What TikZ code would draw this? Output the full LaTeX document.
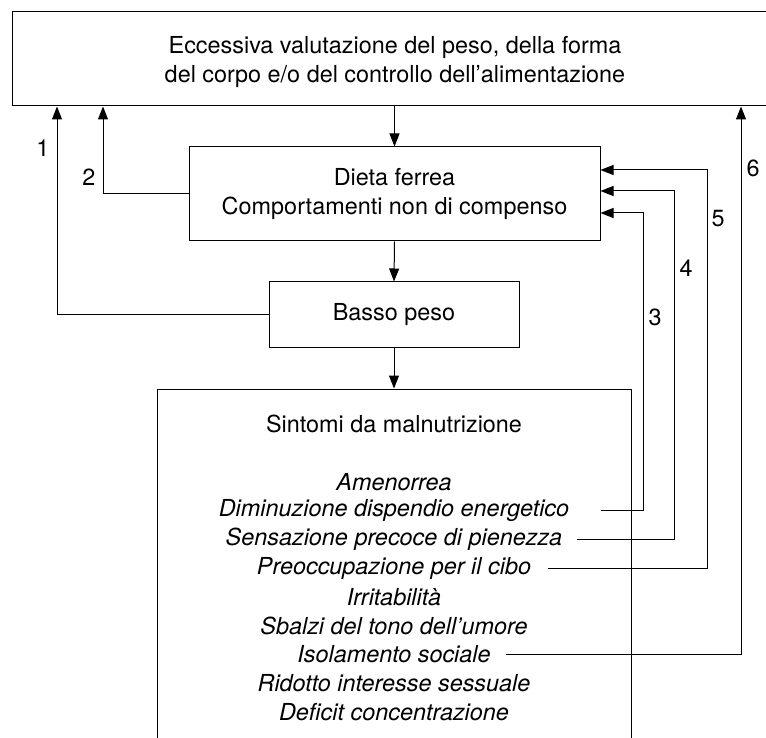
\documentclass[tikz,border=0pt]{standalone}
\usepackage{fontspec}
\setmainfont{TeX Gyre Heros}
\usetikzlibrary{arrows.meta, positioning, calc, fit}
\tikzset{
         mybox/.style={draw, inner sep=0pt},
         mytext/.style={align=center, inner sep=0pt, font=\fontsize{23.4}{28.6}\selectfont},
         myitem/.style={inner sep=0pt, font=\fontsize{23.4}{28.6}\selectfont\itshape},
         mylab/.style={inner sep=0pt, font=\fontsize{23.4}{28.6}\selectfont}
      }

\begin{document}
\begin{tikzpicture}[x=1pt, y=-1pt, ->, >={Triangle[length=13pt,width=10pt]}, line width=1pt]
  \clip (0,0) rectangle (766,738);

  % boxes
  \node[mytext] (valuttxt) at (395,62) {Eccessiva valutazione del peso, della forma\\del corpo e/o del controllo dell'alimentazione};
  \node[mybox, fit={(12,12) (830,106)}] (valut) {};
  \node[mybox, mytext, minimum width=411, minimum height=94] (dieta) at (394.5,194) {Dieta ferrea\\Comportamenti non di compenso};
  \node[mybox, mytext, minimum width=250, minimum height=65] (basso) at (394,314.5) {Basso peso};
  \node[mybox, fit={(157,389) (631,800)}] (sintomi) {};
  \node[mytext] (sintomitit) at (394,424) {Sintomi da malnutrizione};
  \foreach \t [count=\i] in {Amenorrea, Diminuzione dispendio energetico, Sensazione precoce di pienezza,
      Preoccupazione per il cibo, Irritabilità, Sbalzi del tono dell'umore, Isolamento sociale,
      Ridotto interesse sessuale, Deficit concentrazione}
    \node[myitem] (item\i) at (394,{482+28.75*(\i-1)}) {\t};

  % main chain
  \draw (valut.south -| dieta.north) -- (dieta.north);
  \draw (dieta.south) -- (basso.north);
  \draw (basso.south) -- (basso.south |- sintomi.north);

  % feedback loops
  \coordinate (c1) at (57,0);
  \coordinate (c2) at (103,0);
  \coordinate (c3) at (643,213);
  \coordinate (c4) at (674,191);
  \coordinate (c5) at (707,170);
  \coordinate (c6) at (741,0);
  \draw (basso.west) -| (c1 |- valut.south);
  \draw (dieta.west) -| (c2 |- valut.south);
  \draw ([xshift=31pt]item2.east) -| (c3) -- (c3 -| dieta.east);
  \draw ([xshift=14pt]item3.east) -| (c4) -- (c4 -| dieta.east);
  \draw ([xshift=16pt]item4.east) -| (c5) -- (c5 -| dieta.east);
  \draw ([xshift=15pt]item7.east) -| (c6 |- valut.south);

  % labels
  \node[mylab] (lab1) at (43,148) {1};
  \node[mylab] (lab2) at (89,177) {2};
  \node[mylab] (lab3) at (655,317) {3};
  \node[mylab] (lab4) at (686,268) {4};
  \node[mylab] (lab5) at (718,219) {5};
  \node[mylab] (lab6) at (753,168) {6};
\end{tikzpicture}
\end{document}
